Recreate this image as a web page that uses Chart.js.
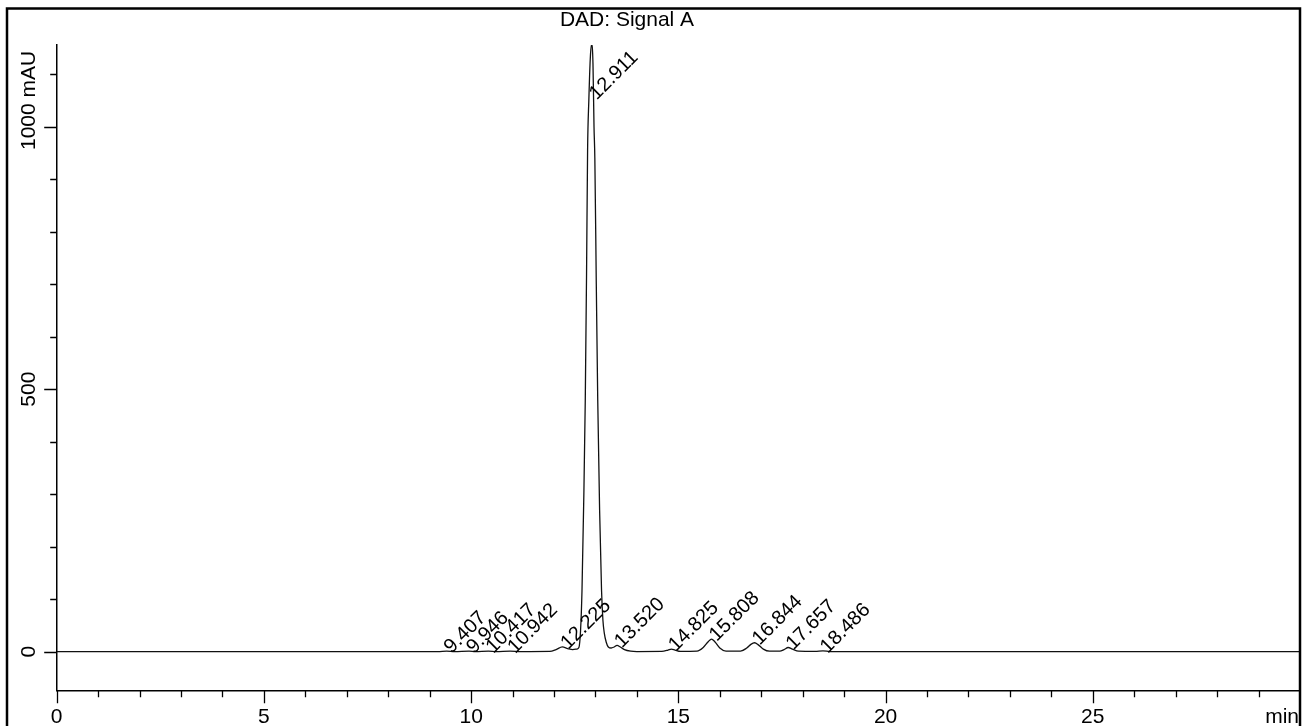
<!DOCTYPE html>
<html>
<head>
<meta charset="utf-8">
<script src="https://cdn.jsdelivr.net/npm/chart.js@4/dist/chart.umd.min.js"></script>
<style>
  html, body { margin: 0; padding: 0; background: #fff; }
  #wrap { width: 1307px; height: 726px; position: relative; }
</style>
</head>
<body>
<div id="wrap"><canvas id="c" width="1307" height="726"></canvas></div>
<script>
// ---- data ----
const title = "DAD: Signal A";
const yUnit = "mAU";
const xUnit = "min";

const times = [0, 9.2, 9.41, 9.6, 9.95, 10.1, 10.42, 10.6, 10.94, 11.2, 11.9, 12.05, 12.2, 12.33, 12.45,
  12.55, 12.6, 12.64, 12.675, 12.72, 12.754, 12.785, 12.81, 12.84, 12.875, 12.906, 12.94, 12.965, 12.985,
  13.02, 13.055, 13.1, 13.147, 13.18, 13.212, 13.26, 13.31, 13.38, 13.45, 13.52, 13.6, 13.7, 13.85, 14.0,
  14.6, 14.75, 14.83, 14.92, 15.05, 15.45, 15.6, 15.72, 15.8, 15.88, 16.0, 16.15,
  16.5, 16.65, 16.75, 16.84, 16.93, 17.05, 17.2, 17.45, 17.55, 17.65, 17.75, 17.9,
  18.3, 18.49, 18.65, 19, 30];
const signal = [0, 0, 1.2, 0.3, 1.0, 0.3, 1.2, 0.3, 1.0, 0.2, 0.5, 4, 9, 6, 4,
  5, 8, 40, 116, 300, 479, 720, 955, 1050, 1130, 1157, 1120, 1000, 940,
  700, 479, 270, 116, 60, 36, 18, 9, 7, 9, 12, 9, 4, 1, 0.3,
  0.5, 3, 5, 3, 0.5, 1, 8, 19, 24, 19, 7, 1,
  1, 7, 14, 17, 13, 5, 1, 1, 4, 8, 5, 1,
  0.5, 1.5, 0.3, 0, 0];

const peakTimes = [9.407, 9.946, 10.417, 10.942, 12.225, 12.911, 13.520, 14.825, 15.808, 16.844, 17.657, 18.486];
const peakLabels = ["9.407", "9.946", "10.417", "10.942", "12.225", "12.911", "13.520", "14.825", "15.808", "16.844", "17.657", "18.486"];
const peakHeights = [1.2, 1.0, 1.2, 1.0, 9, 1157, 12, 5, 24, 17, 8, 1.5];

const xMin = 0, xMax = 30, xMajor = 5, xMinor = 1;
const yMin = -74.3, yMax = 1155.6, yMajor = 500, yMinor = 100;
const xTickValues = [0, 5, 10, 15, 20, 25];
const yTickValues = [0, 500, 1000];

const FONT = '"Liberation Sans", Arial, sans-serif';

const decor = {
  id: 'decor',
  afterDraw(chart) {
    const ctx = chart.ctx;
    const xs = chart.scales.x, ys = chart.scales.y;
    const area = chart.chartArea;
    ctx.save();
    ctx.strokeStyle = '#000';
    ctx.fillStyle = '#000';
    // ticks (major and minor)
    ctx.lineWidth = 1.3;
    ctx.beginPath();
    for (let t = xMin; t < xMax; t += xMinor) {
      const major = t % xMajor === 0;
      const px = Math.round(xs.getPixelForValue(t)) + 0.5;
      ctx.moveTo(px, area.bottom);
      ctx.lineTo(px, area.bottom + (major ? 12.5 : 6.5));
    }
    for (let v = 0; v <= yMax; v += yMinor) {
      const major = v % yMajor === 0;
      const py = Math.round(ys.getPixelForValue(v)) + 0.5;
      ctx.moveTo(area.left - (major ? 12.5 : 6.5), py);
      ctx.lineTo(area.left, py);
    }
    ctx.stroke();

    // x tick labels
    ctx.font = '21px ' + FONT;
    ctx.textAlign = 'center';
    ctx.textBaseline = 'alphabetic';
    xTickValues.forEach(v => {
      ctx.fillText(String(v), xs.getPixelForValue(v), 723);
    });
    ctx.textAlign = 'right';
    ctx.fillText(xUnit, xs.getPixelForValue(xMax) - 1, 723);

    // y tick labels (rotated)
    yTickValues.forEach(v => {
      const py = ys.getPixelForValue(v);
      ctx.save();
      ctx.translate(35, py);
      ctx.rotate(-Math.PI / 2);
      const num = String(v);
      const w = ctx.measureText(num).width;
      ctx.textAlign = 'left';
      ctx.fillText(v === 1000 ? num + ' ' + yUnit : num, -w / 2, 0);
      ctx.restore();
    });

    // title
    ctx.textAlign = 'center';
    ctx.font = '21px ' + FONT;
    ctx.fillText(title, 627, 26);

    // peak labels
    ctx.font = '20px ' + FONT;
    ctx.textAlign = 'left';
    peakTimes.forEach((t, i) => {
      const h = Math.min(peakHeights[i], yMax - 100);
      const px = xs.getPixelForValue(t);
      const py = ys.getPixelForValue(h);
      ctx.save();
      ctx.translate(px + 5, py + 3);
      ctx.rotate(-Math.PI / 4);
      ctx.fillText(peakLabels[i], 0, 0);
      ctx.restore();
    });

    // outer frame
    ctx.lineWidth = 2.5;
    ctx.strokeRect(7, 8.5, 1293, 760);
    ctx.restore();
  }
};

new Chart(document.getElementById('c'), {
  type: 'line',
  data: {
    datasets: [{
      data: times.map((t, i) => ({ x: t, y: signal[i] })),
      borderColor: '#111',
      borderWidth: 1.3,
      pointRadius: 0,
      fill: false,
      cubicInterpolationMode: 'monotone'
    }]
  },
  options: {
    responsive: false,
    animation: false,
    devicePixelRatio: 1,
    layout: { autoPadding: false, padding: { left: 6.7, right: 7, top: 45, bottom: 0 } },
    plugins: { legend: { display: false }, tooltip: { enabled: false }, title: { display: false } },
    scales: {
      x: {
        type: 'linear', min: xMin, max: xMax, position: 'bottom',
        ticks: { display: false, stepSize: xMajor },
        grid: { display: false },
        border: { display: true, color: '#000', width: 1.5 },
        afterFit: s => { s.height = 35.3; }
      },
      y: {
        type: 'linear', min: yMin, max: yMax, position: 'left',
        ticks: { display: false, stepSize: yMajor },
        grid: { display: false },
        border: { display: true, color: '#000', width: 1.5 },
        afterFit: s => { s.width = 50; }
      }
    }
  },
  plugins: [decor]
});
</script>
</body>
</html>
